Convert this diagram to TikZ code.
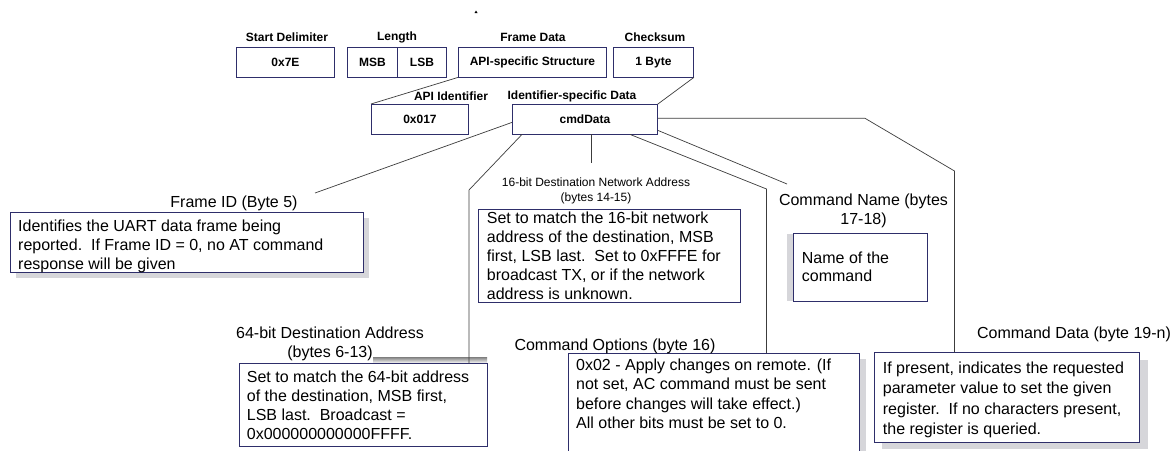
\documentclass[tikz,border=0pt]{standalone}
\usepackage{fontspec}
\setmainfont{Liberation Sans}
\usetikzlibrary{shadows}
\definecolor{navy}{HTML}{2E2E6A}
\definecolor{wirecol}{HTML}{3C3C3C}
\definecolor{shade}{HTML}{D6D6DA}

\begin{document}
\begin{tikzpicture}[x=1pt,y=-1pt,
  field/.style={draw=navy, line width=0.9pt, inner sep=0pt, anchor=north west,
    minimum height=29.5pt, font=\fontsize{12}{14}\selectfont\bfseries},
  head/.style={inner sep=0pt, font=\fontsize{12}{14}\selectfont\bfseries},
  note/.style={draw=navy, line width=0.9pt, fill=white, inner sep=0pt, anchor=north west},
  sh/.style 2 args={general shadow={fill=shade, shadow xshift=#1, shadow yshift=#2}},
  % multi-line texts are placed by the baseline of their last line
  body/.style={inner sep=0pt, anchor=base west, align=left, font=\fontsize{16}{#1}\selectfont},
  body/.default=19.3,
  caption/.style={inner sep=0pt, anchor=base, align=center, font=\fontsize{16}{19}\selectfont},
  small/.style={inner sep=0pt, anchor=base, align=center, font=\fontsize{12}{15.5}\selectfont},
  wire/.style={draw=wirecol, line width=0.7pt}
]
\clip (0,0) rectangle (1175,450);
\fill[white] (0,0) rectangle (1175,450);

% small mark above the frame
\fill[black] (474.5,13) -- (476,10.5) -- (477.5,13) -- cycle;

% ---- API frame fields ----
\node[field, minimum width=98pt]  (sd)  at (236,47) {0x7E};
\node[field, minimum width=50pt]  (msb) at (347,47) {MSB};
\node[field, minimum width=49pt]  (lsb) at (397,47) {LSB};
\node[field, minimum width=148pt] (fd)  at (458,47) {API-specific Structure};
\node[field, minimum width=80pt]  (cks) at (613,47) {1 Byte};

\node[head] (sdh)  at (287,37)   {Start Delimiter};
\node[head] (lenh) at (397,37)   {Length};
\node[head] (fdh)  at (533,37)   {Frame Data};
\node[head] (cksh) at (655,37)   {Checksum};

% ---- frame data breakdown ----
\node[field, minimum width=97pt]  (api) at (371,104) {0x017};
\node[field, minimum width=145pt] (cmd) at (512,104) {cmdData};
\node[head] (apih) at (451,96) {API Identifier};
\node[head] (cmdh) at (572,96) {Identifier-specific Data};

\draw[wire] (fd.south west) -- (api.north west);
\draw[wire] (cks.south east) -- (cmd.north east);

% ---- description boxes ----
\node[note, sh={6pt}{-6pt}, minimum width=353pt, minimum height=60pt] (fid) at (10,212) {};
\node[body=19] (fidt) at (18,269) {Identifies the UART data frame being\\reported.\ \ If Frame ID = 0, no AT command\\response will be given};
\node[caption] (fidl) at (234,207.5) {Frame ID (Byte 5)};

\node[note, minimum width=262pt, minimum height=93.5pt] (net) at (477.5,208.5) {};
\node[body=18.9] (nett) at (486.7,299.1) {Set to match the 16-bit network\\address of the destination, MSB\\first, LSB last.\ \ Set to 0xFFFE for\\broadcast TX, or if the network\\address is unknown.};
\node[small] (netl) at (596,201.8) {16-bit Destination Network Address\\(bytes 14-15)};

\node[note, sh={-6.5pt}{0pt}, minimum width=134pt, minimum height=67.5pt] (cn) at (793.3,233.3) {};
\node[body=18.7] (cnt) at (801.7,281.8) {Name of the\\command};
\node[caption] (cnl) at (863.5,224.1) {Command Name (bytes\\17-18)};

\fill[shade] (373,357) rectangle (487,363.3);
\node[note, minimum width=247.4pt, minimum height=82.7pt] (dst) at (239.3,363.3) {};
\node[body=18.9] (dstt) at (246.7,439.1) {Set to match the 64-bit address\\of the destination, MSB first,\\LSB last.\ \ Broadcast =\\0x000000000000FFFF.};
\node[caption] (dstl) at (330,357.8) {64-bit Destination Address\\(bytes 6-13)};

\node[note, sh={7pt}{-6pt}, minimum width=290.7pt, minimum height=130pt] (opt) at (568.3,353) {};
\node[body=19.5] (optt) at (576,428.5) {0x02 - Apply changes on remote. (If\\not set, AC command must be sent\\before changes will take effect.)\\All other bits must be set to 0.};
\node[caption] (optl) at (615,350.8) {Command Options (byte 16)};

\node[note, sh={8pt}{-7pt}, minimum width=265.3pt, minimum height=89.4pt] (cd) at (874,352.3) {};
\node[body=20.5] (cdt) at (882.7,434.8) {If present, indicates the requested\\parameter value to set the given\\register.\ \ If no characters present,\\the register is queried.};
\node[caption] (cdl) at (1074,338.8) {Command Data (byte 19-n)};

% ---- leader lines from cmdData ----
\coordinate (fidend) at (315,193);
\coordinate (dstbend) at (469,190);
\coordinate (netend) at (591,163);
\coordinate (optbend) at (766.5,189);
\coordinate (cnend) at (787,184);
\coordinate (cdknee) at (865,118.3);
\coordinate (cdbend) at (954.5,171);

\draw[wire] ([yshift=12pt]cmd.south west) -- (fidend);
\draw[wire] ([xshift=10pt]cmd.south west) -- (dstbend) -- (dstbend |- dst.north);
\draw[wire] (netend |- cmd.south) -- (netend);
\draw[wire] ([xshift=118pt]cmd.south west) -- (optbend) -- (optbend |- opt.north);
\draw[wire] ([yshift=4pt]cmd.south east) -- (cnend);
\draw[wire] (cdknee -| cmd.east) -- (cdknee) -- (cdbend) -- (cdbend |- cd.north);
\end{tikzpicture}
\end{document}
